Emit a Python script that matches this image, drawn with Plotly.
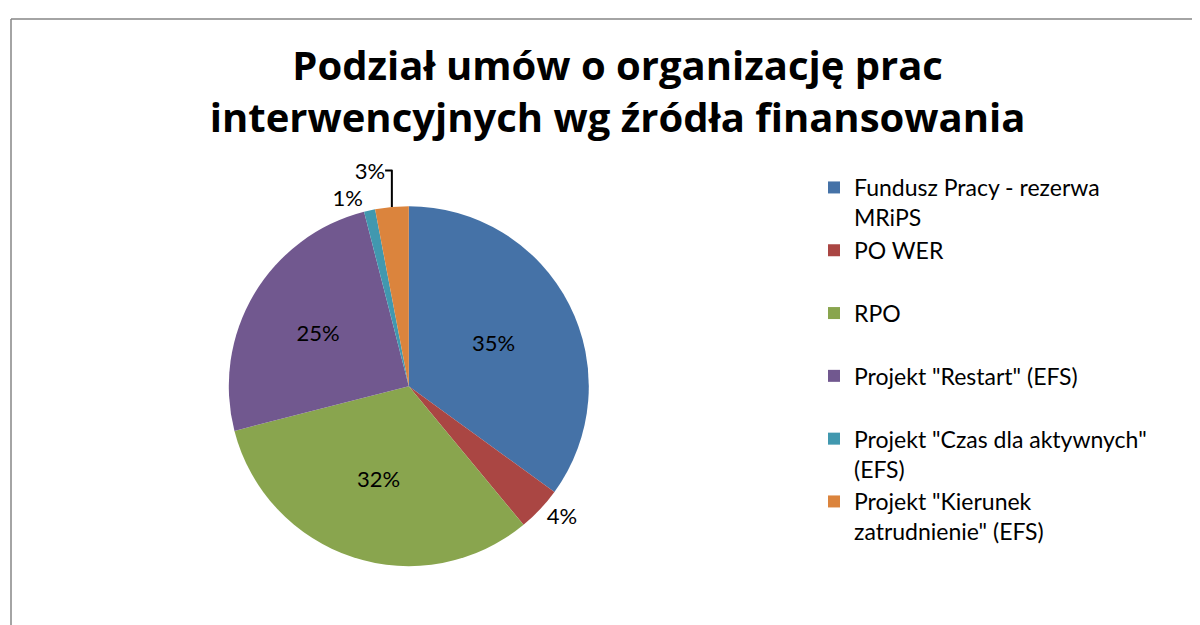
import plotly.graph_objects as go

labels = [
    "Fundusz Pracy - rezerwa<br>MRiPS",
    "PO WER<br> ",
    "RPO<br> ",
    "Projekt \"Restart\" (EFS)<br> ",
    "Projekt \"Czas dla aktywnych\"<br>(EFS)",
    "Projekt \"Kierunek<br>zatrudnienie\" (EFS)",
]
values = [35, 4, 32, 25, 1, 3]
colors = ["#4572A7", "#AA4643", "#89A54E", "#71588F", "#4198AF", "#DB843D"]
positions = ["inside", "outside", "inside", "inside", "outside", "outside"]

W, H = 1200, 625

fig = go.Figure(go.Pie(
    labels=labels,
    values=values,
    marker=dict(colors=colors, line=dict(width=0)),
    sort=False,
    direction="clockwise",
    rotation=0,
    textinfo="percent",
    texttemplate="%{percent:.0%}",
    textposition=positions,
    textfont=dict(family="Lato, Open Sans, sans-serif", size=22, color="#000000"),
    insidetextorientation="horizontal",
    domain=dict(x=[0.184, 0.484], y=[0.09, 0.70]),
    hoverinfo="label+percent",
    showlegend=True,
))

fig.update_layout(
    width=W, height=H,
    paper_bgcolor="white",
    plot_bgcolor="white",
    margin=dict(l=0, r=0, t=0, b=0),
    title=dict(
        text="<b>Podział umów o organizację prac<br>interwencyjnych wg źródła finansowania</b>",
        x=0.508, xanchor="center",
        y=1 - 72 / H, yanchor="top",
        font=dict(family="Open Sans, Lato, sans-serif", size=40, color="#000000"),
    ),
    legend=dict(
        x=806 / W, xanchor="left",
        y=1 - 158 / H, yanchor="top",
        font=dict(family="Lato, Open Sans, sans-serif", size=23, color="#000000"),
        valign="top",
        itemsizing="constant",
        bgcolor="rgba(0,0,0,0)",
        traceorder="normal",
    ),
    shapes=[
        dict(type="line", xref="paper", yref="paper",
             x0=3 / W, x1=3 / W, y0=0, y1=1 - 11 / H,
             line=dict(color="#868686", width=1.5)),
        dict(type="line", xref="paper", yref="paper",
             x0=3 / W, x1=1, y0=1 - 11 / H, y1=1 - 11 / H,
             line=dict(color="#868686", width=1.5)),
    ],
)

fig.write_html("out.html")
